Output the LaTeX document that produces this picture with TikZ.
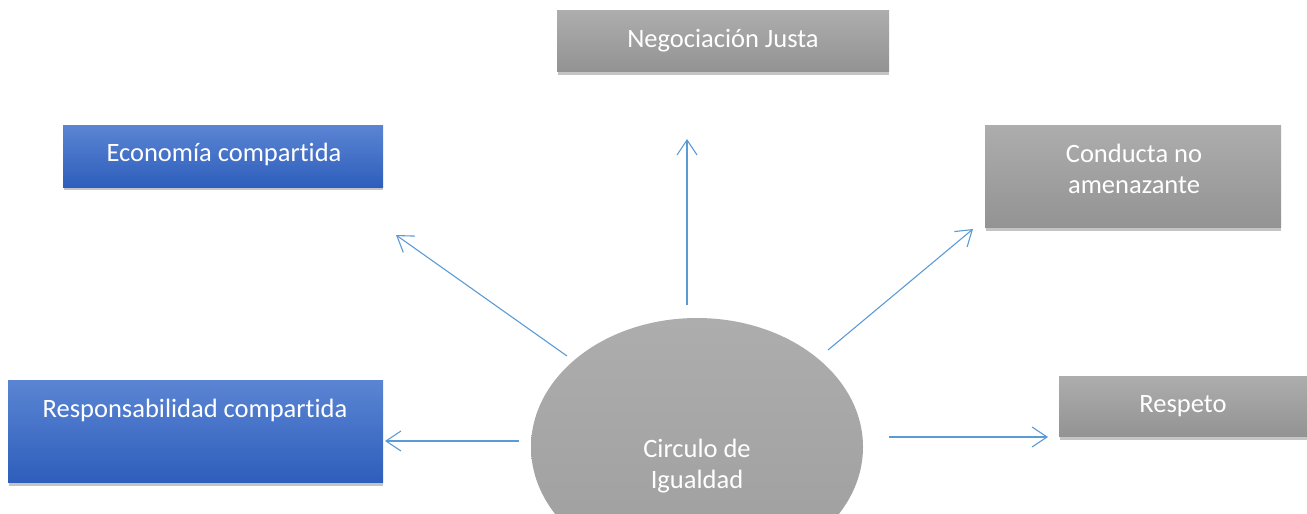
\documentclass[tikz,border=0pt]{standalone}
\usepackage{fontspec}
\setmainfont{Carlito}[Ligatures={NoCommon,NoContextual}]
\usetikzlibrary{arrows.meta,shapes.geometric}
\definecolor{grayTop}{HTML}{ADADAD}
\definecolor{grayBot}{HTML}{939393}
\definecolor{ellBot}{HTML}{9E9E9E}
\definecolor{blueTop}{HTML}{5B85D3}
\definecolor{blueBot}{HTML}{2E5EBC}
\definecolor{shadowc}{HTML}{C4C4C4}
\definecolor{arrowc}{HTML}{5B9BD5}
\tikzset{
  graybox/.style={rectangle, inner sep=0pt, top color=grayTop, bottom color=grayBot, draw=none},
  bluebox/.style={rectangle, inner sep=0pt, top color=blueTop, bottom color=blueBot, draw=none},
  shadowbox/.style={fill=shadowc, draw=none},
  txt/.style={text=white, font=\fontsize{26.5pt}{32pt}\selectfont, inner sep=0pt, anchor=base},
  conn/.style={draw=arrowc, line width=1.1pt, -{Straight Barb[length=15pt,width=20pt,line width=1.1pt]}}
}
\begin{document}
\begin{tikzpicture}[x=1pt,y=-1pt]
\useasboundingbox (0,0) rectangle (1307,514);
\clip (0,0) rectangle (1307,514);
% shadows
\fill[shadowbox] (558,14) rectangle (889,75);
\fill[shadowbox] (64,129) rectangle (383,190);
\fill[shadowbox] (9,384) rectangle (383,486);
\fill[shadowbox] (986,129) rectangle (1281,231);
\fill[shadowbox] (1060,380) rectangle (1310,440);
% boxes
\node[graybox, minimum width=332pt, minimum height=61pt, anchor=north west] (neg) at (557,10) {};
\node[bluebox, minimum width=320pt, minimum height=62pt, anchor=north west] (eco) at (63,125) {};
\node[bluebox, minimum width=375pt, minimum height=102pt, anchor=north west] (resp) at (8,380) {};
\node[graybox, minimum width=296pt, minimum height=102pt, anchor=north west] (cond) at (985,125) {};
\node[graybox, minimum width=252pt, minimum height=60pt, anchor=north west] (resp2) at (1059,376) {};
% ellipse
\node[ellipse, inner sep=0pt, minimum width=332pt, minimum height=258pt, top color=grayTop, bottom color=ellBot, draw=none] (circ) at (697,447) {};
% texts
\node[txt] (negt) at (723,47) {Negociación Justa};
\node[txt] (ecot) at (224,161) {Economía compartida};
\node[txt] (respt) at (195,417) {Responsabilidad compartida};
\node[txt] (condt1) at (1134,162) {Conducta no};
\node[txt] (condt2) at (1134,193) {amenazante};
\node[txt] (respetot) at (1183,412) {Respeto};
\node[txt] (circt1) at (697,457) {Circulo de};
\node[txt] (circt2) at (697,488) {Igualdad};
% connector endpoints
\coordinate (s-up) at (687,305);
\coordinate (e-up) at (687,139);
\coordinate (s-ul) at (567,356);
\coordinate (e-ul) at (396,235);
\coordinate (s-ur) at (828,350);
\coordinate (e-ur) at (973,229);
\coordinate (s-l) at (519,441);
\coordinate (e-l) at (385,441);
\coordinate (s-r) at (889,437);
\coordinate (e-r) at (1048,437);
\draw[conn] (s-up) -- (e-up);
\draw[conn] (s-ul) -- (e-ul);
\draw[conn] (s-ur) -- (e-ur);
\draw[conn] (s-l) -- (e-l);
\draw[conn] (s-r) -- (e-r);
\end{tikzpicture}
\end{document}
